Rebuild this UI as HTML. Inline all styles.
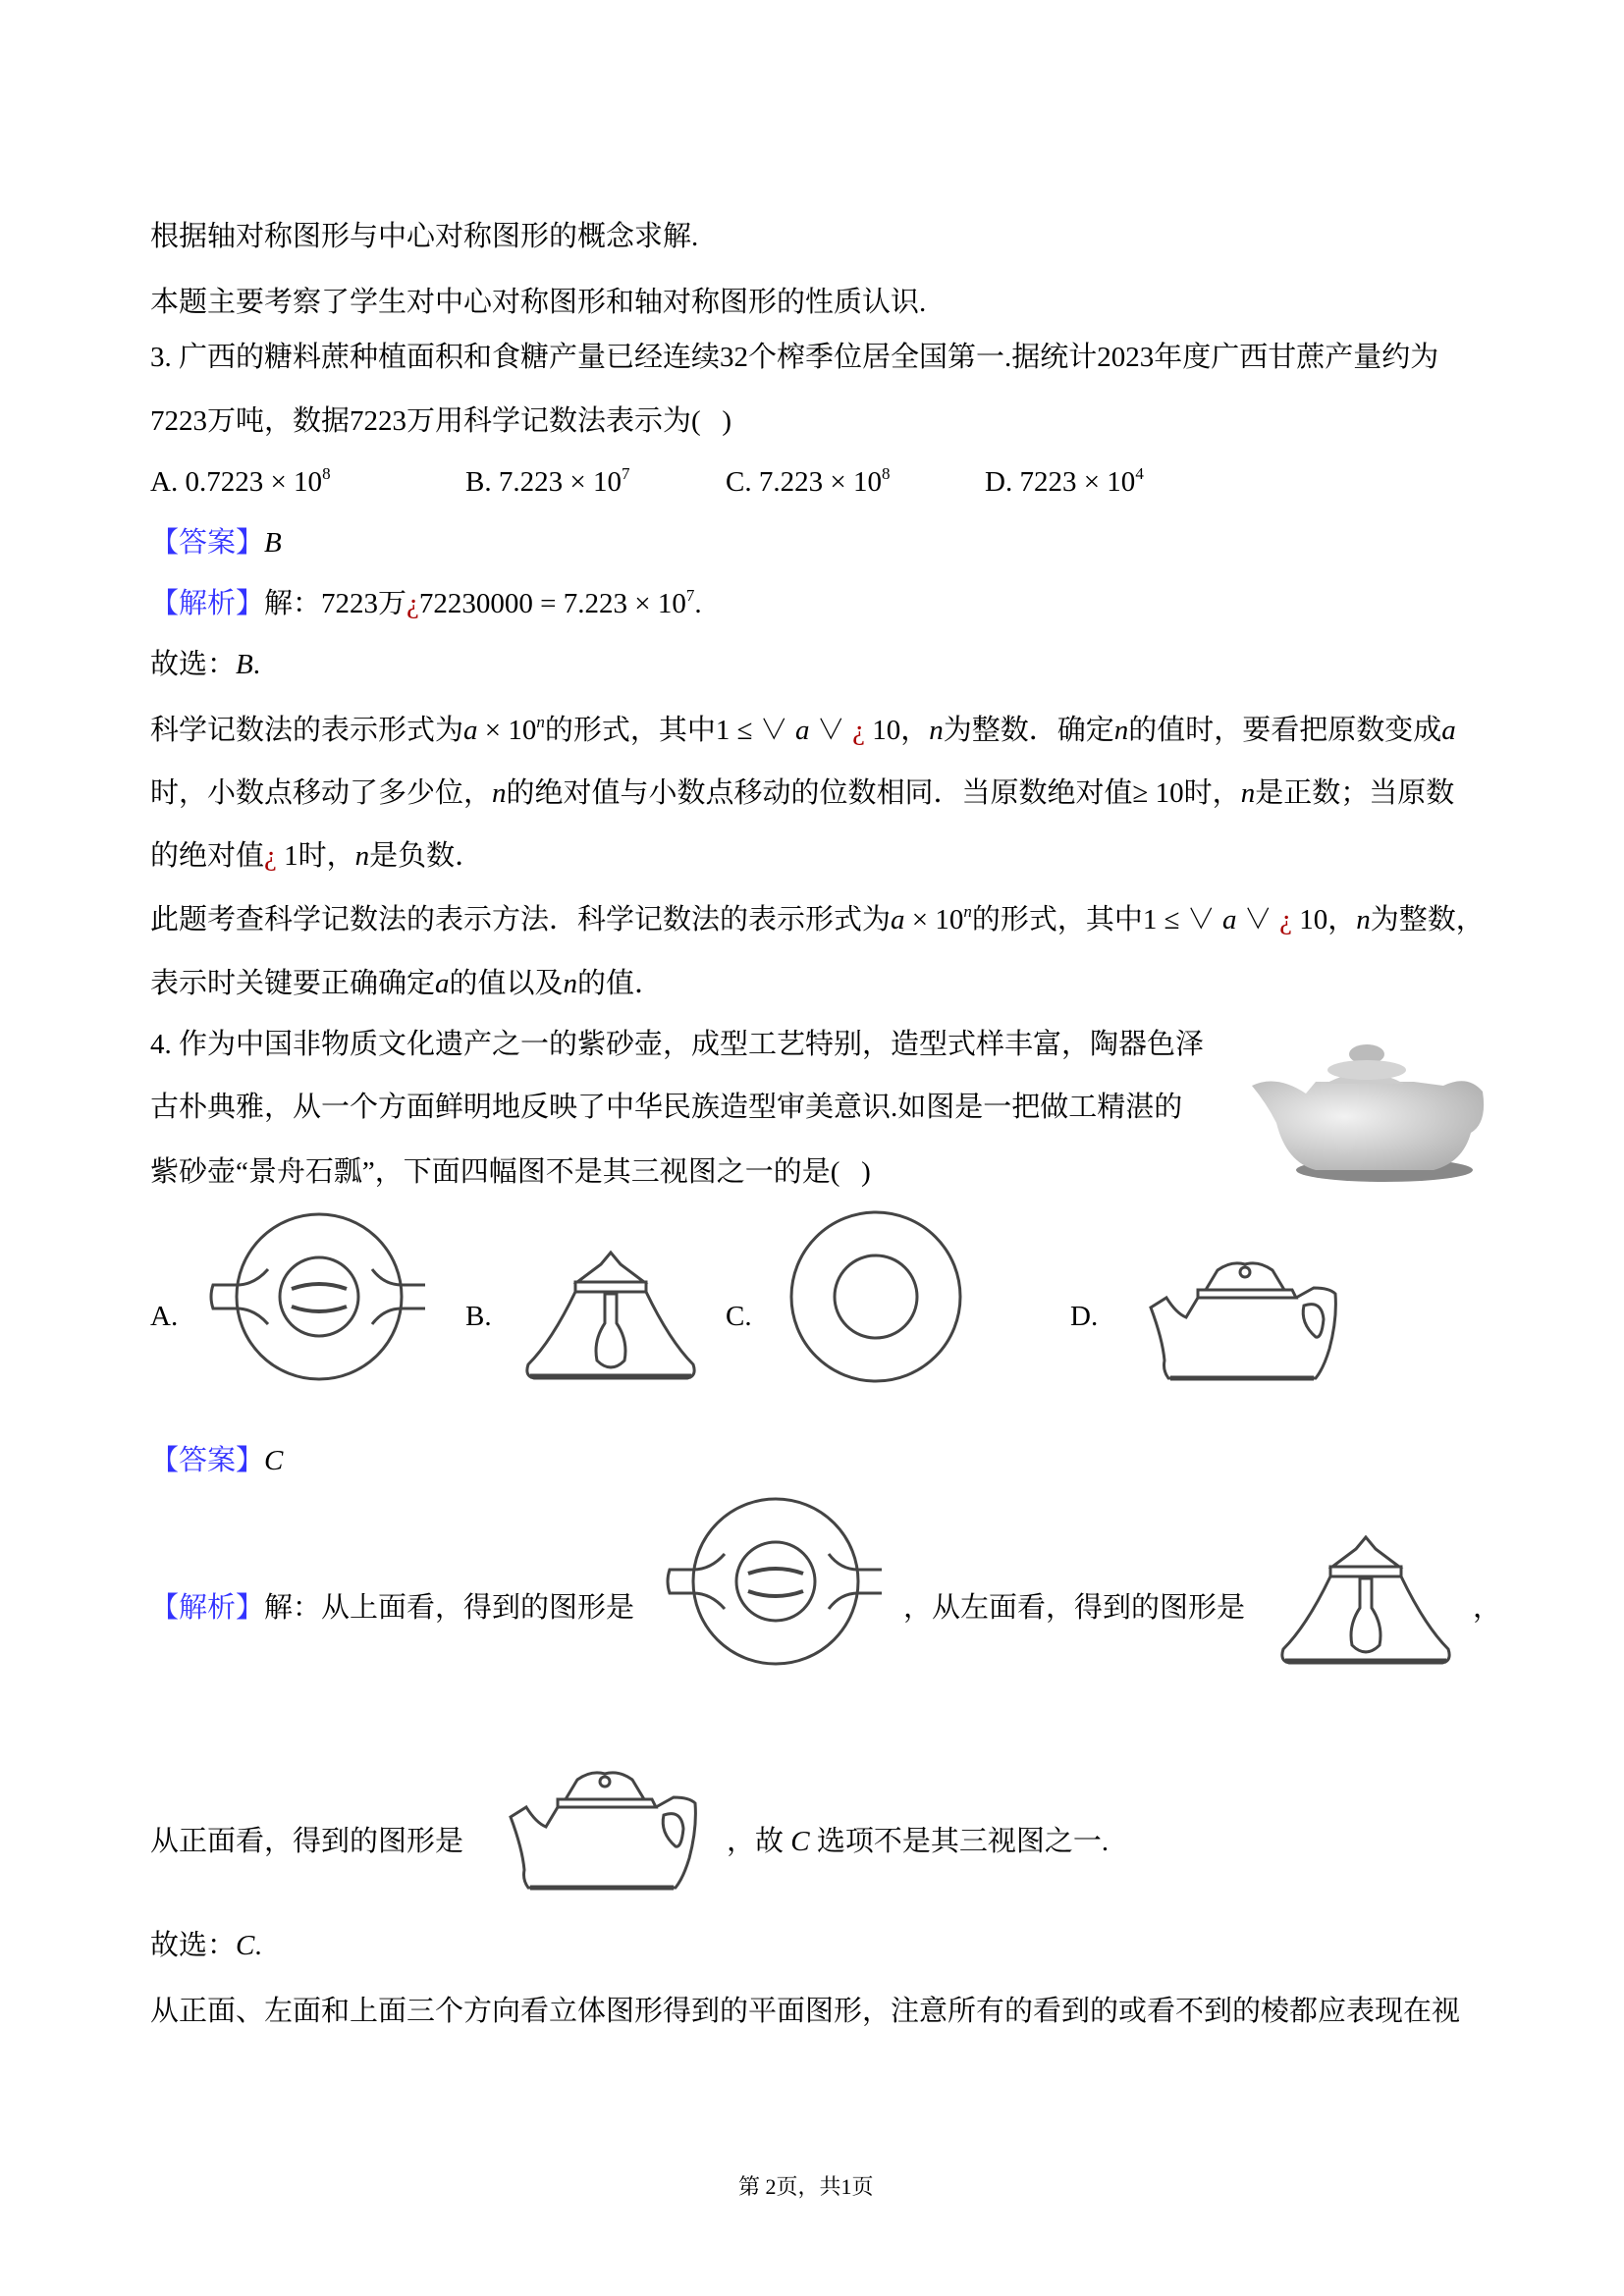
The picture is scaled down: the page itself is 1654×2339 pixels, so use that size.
<!DOCTYPE html>
<html><head><meta charset="utf-8"><style>
body{margin:0;background:#fff;}
#p{position:relative;width:1654px;height:2339px;overflow:hidden;font-family:"Liberation Serif","Noto Serif CJK SC","Noto Sans CJK SC",serif;font-size:29px;color:#000;}
.l{position:absolute;left:153px;white-space:nowrap;line-height:36px;}
.i{font-style:italic;}
sup{font-size:17px;vertical-align:12px;line-height:0;}
.b{color:#3333ff;}
.r{color:#a00;}
svg{position:absolute;left:0;top:0;}
</style></head><body><div id="p">
<div class="l" style="top:223px">根据轴对称图形与中心对称图形的概念求解.</div>
<div class="l" style="top:290px">本题主要考察了学生对中心对称图形和轴对称图形的性质认识.</div>
<div class="l" style="top:346px">3. 广西的糖料蔗种植面积和食糖产量已经连续32个榨季位居全国第一.据统计2023年度广西甘蔗产量约为</div>
<div class="l" style="top:411px">7223万吨，数据7223万用科学记数法表示为(&nbsp;&nbsp;&nbsp;)</div>
<div class="l" style="top:473px">A. 0.7223 × 10<sup>8</sup></div>
<div class="l" style="top:473px;left:474px">B. 7.223 × 10<sup>7</sup></div>
<div class="l" style="top:473px;left:739px">C. 7.223 × 10<sup>8</sup></div>
<div class="l" style="top:473px;left:1003px">D. 7223 × 10<sup>4</sup></div>
<div class="l" style="top:535px"><span class="b">【答案】</span><span class="i">B</span></div>
<div class="l" style="top:597px"><span class="b">【解析】</span>解：7223万<span class="r">¿</span>72230000 = 7.223 × 10<sup>7</sup>.</div>
<div class="l" style="top:659px">故选：<span class="i">B</span>.</div>
<div class="l" style="top:726px">科学记数法的表示形式为<span class="i">a</span> × 10<sup class="i">n</sup>的形式，其中1 ≤ ∨ <span class="i">a</span> ∨ <span class="r">¿</span> 10，<span class="i">n</span>为整数．确定<span class="i">n</span>的值时，要看把原数变成<span class="i">a</span></div>
<div class="l" style="top:790px">时，小数点移动了多少位，<span class="i">n</span>的绝对值与小数点移动的位数相同．当原数绝对值≥ 10时，<span class="i">n</span>是正数；当原数</div>
<div class="l" style="top:854px">的绝对值<span class="r">¿</span> 1时，<span class="i">n</span>是负数．</div>
<div class="l" style="top:919px">此题考查科学记数法的表示方法．科学记数法的表示形式为<span class="i">a</span> × 10<sup class="i">n</sup>的形式，其中1 ≤ ∨ <span class="i">a</span> ∨ <span class="r">¿</span> 10，<span class="i">n</span>为整数，</div>
<div class="l" style="top:984px">表示时关键要正确确定<span class="i">a</span>的值以及<span class="i">n</span>的值．</div>
<div class="l" style="top:1046px">4. 作为中国非物质文化遗产之一的紫砂壶，成型工艺特别，造型式样丰富，陶器色泽</div>
<div class="l" style="top:1110px">古朴典雅，从一个方面鲜明地反映了中华民族造型审美意识.如图是一把做工精湛的</div>
<div class="l" style="top:1176px">紫砂壶“景舟石瓢”，下面四幅图不是其三视图之一的是(&nbsp;&nbsp;&nbsp;)</div>
<div class="l" style="top:1323px">A.</div>
<div class="l" style="top:1323px;left:474px">B.</div>
<div class="l" style="top:1323px;left:739px">C.</div>
<div class="l" style="top:1323px;left:1090px">D.</div>
<div class="l" style="top:1470px"><span class="b">【答案】</span><span class="i">C</span></div>
<div class="l" style="top:1620px"><span class="b">【解析】</span>解：从上面看，得到的图形是</div>
<div class="l" style="top:1620px;left:920px">，从左面看，得到的图形是</div>
<div class="l" style="top:1620px;left:1500px">，</div>
<div class="l" style="top:1858px">从正面看，得到的图形是</div>
<div class="l" style="top:1858px;left:740px">，故 <span class="i">C</span> 选项不是其三视图之一.</div>
<div class="l" style="top:1964px">故选：<span class="i">C</span>.</div>
<div class="l" style="top:2031px">从正面、左面和上面三个方向看立体图形得到的平面图形，注意所有的看到的或看不到的棱都应表现在视</div>
<div class="l" style="top:2210px;left:752px;font-size:22px">第 2页，共1页</div>

<svg width="1654" height="2339" viewBox="0 0 1654 2339">
<defs>
<radialGradient id="pot" cx="0.4" cy="0.4" r="0.7"><stop offset="0" stop-color="#f2f2f2"/><stop offset="1" stop-color="#b0b0b0"/></radialGradient>
<g id="A" fill="none" stroke="#444" stroke-width="3">
<circle r="84"/>
<ellipse rx="40" ry="40"/>
<path d="M-28,-8 Q0,-18 28,-8 M-28,10 Q0,20 28,10" stroke-width="4"/>
<path d="M-84,-12 L-108,-12 Q-112,0 -108,12 L-84,12 M-84,-12 Q-66,-12 -52,-28 M-84,12 Q-66,12 -52,28"/>
<path d="M84,-12 L108,-12 M84,12 L108,12 M84,-12 Q66,-12 54,-28 M84,12 Q66,12 54,28"/>
</g>
<g id="B" fill="none" stroke="#444" stroke-width="3">
<path d="M-10,-58 L0,-70 L10,-58 L34,-40 L-34,-40 Z"/>
<path d="M-36,-40 L36,-40 L36,-30 L-36,-30 Z"/>
<path d="M-36,-30 Q-60,20 -84,44 Q-88,56 -78,58 L78,58 Q88,56 84,44 Q60,20 36,-30"/>
<path d="M-6,-28 L-6,2 Q-18,20 -14,40 Q0,54 14,40 Q18,20 6,2 L6,-28 Z"/>
<path d="M-82,56 L82,56" stroke-width="5"/>
</g>
<g id="D" fill="none" stroke="#444" stroke-width="3">
<path d="M-40,-20 L-28,-40 Q-14,-50 0,-46 Q14,-50 28,-40 L40,-20 Z"/>
<circle cx="0" cy="-38" r="5"/>
<path d="M-48,-20 L48,-20 L52,-12 L-48,-12 Z"/>
<path d="M-48,-12 L-60,8 Q-70,4 -80,-12 L-96,-2 Q-84,30 -82,52 Q-84,62 -78,70 L72,70 Q80,60 86,40 Q94,10 92,-16 Q86,-22 70,-22 L52,-12"/>
<path d="M60,-4 Q78,-10 80,10 Q78,30 72,28 Q56,14 60,-4 Z"/>
<path d="M-76,70 L70,70" stroke-width="5"/>
</g>
</defs>
<g transform="translate(0,-6)">
<ellipse cx="1410" cy="1198" rx="90" ry="12" fill="#555" opacity="0.7"/>
<path d="M1330,1120 Q1300,1100 1275,1112 Q1290,1130 1300,1150 Q1310,1190 1340,1198 L1460,1198 Q1490,1190 1498,1160 Q1515,1150 1510,1118 Q1495,1100 1470,1112 Q1455,1110 1440,1108 L1340,1108 Z" fill="url(#pot)"/>
<path d="M1350,1110 Q1390,1088 1430,1110 Z" fill="#ccc"/>
<ellipse cx="1392" cy="1080" rx="18" ry="10" fill="#bbb"/>
<ellipse cx="1392" cy="1096" rx="40" ry="10" fill="#d4d4d4"/>
</g>
<use href="#A" x="325" y="1321"/>
<use href="#B" x="622" y="1346"/>
<circle cx="892" cy="1321" r="86" fill="none" stroke="#444" stroke-width="3"/>
<circle cx="892" cy="1321" r="42" fill="none" stroke="#444" stroke-width="3"/>
<use href="#D" x="1268" y="1334"/>
<use href="#A" x="790" y="1611"/>
<use href="#B" x="1391" y="1636"/>
<use href="#D" x="616" y="1853"/>
</svg>
</div></body></html>
